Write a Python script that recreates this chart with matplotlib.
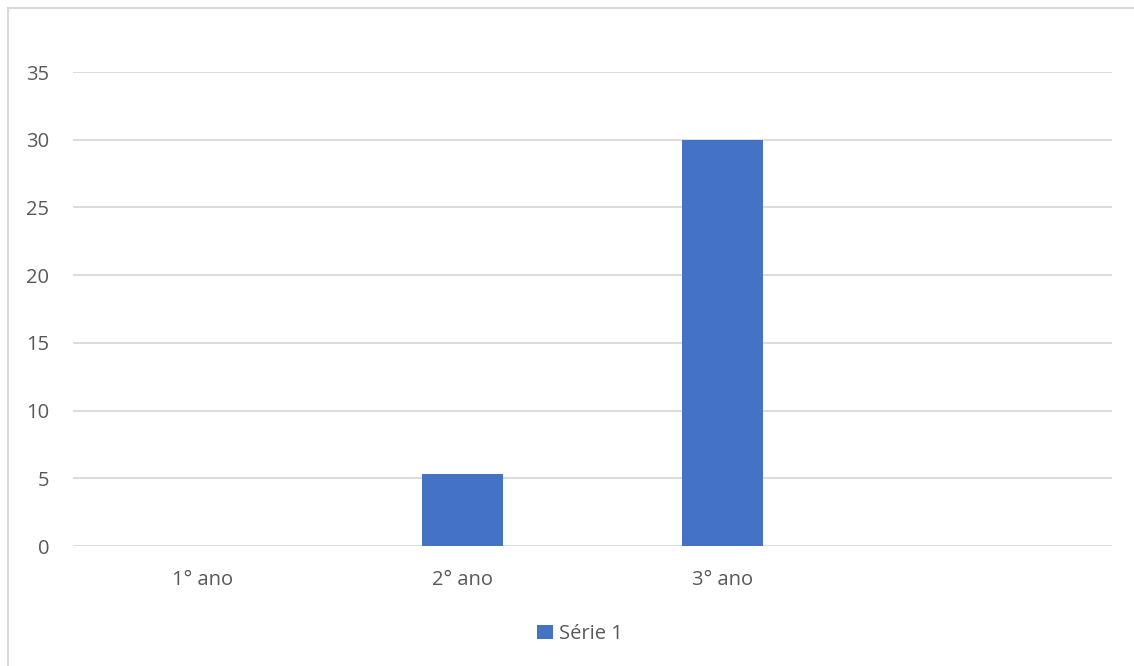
import matplotlib.pyplot as plt

categories = ["1° ano", "2° ano", "3° ano", ""]
values = [0, 5.3, 30, 0]
series_name = "Série 1"
yticks = [0, 5, 10, 15, 20, 25, 30, 35]

bar_color = "#4472C4"
text_color = "#595959"
grid_color = "#D9D9D9"

plt.rcParams['font.family'] = ['Open Sans', 'DejaVu Sans']

fig = plt.figure(figsize=(11.34, 6.66), dpi=100)
ax = fig.add_axes([73 / 1134, 1 - 546 / 666, (1112 - 73) / 1134, (546 - 72) / 666])

x = list(range(len(categories)))
ax.bar(x, values, width=0.31, color=bar_color, label=series_name, zorder=3)

ax.set_xlim(-0.5, len(categories) - 0.5)
ax.set_ylim(0, 35)
ax.set_yticks(yticks)
ax.set_xticks(x)
ax.set_xticklabels(categories)
ax.tick_params(axis='both', length=0, labelsize=14.5, labelcolor=text_color)
ax.tick_params(axis='y', pad=17)
ax.tick_params(axis='x', pad=17)
ax.grid(axis='y', color=grid_color, linewidth=1.3, zorder=0)
for s in ax.spines.values():
    s.set_visible(False)

leg = fig.legend(loc='center', bbox_to_anchor=(580 / 1134, 1 - 634 / 666), frameon=False,
                 fontsize=14.5, handlelength=0.75, handleheight=0.75, handletextpad=0.3)
for t in leg.get_texts():
    t.set_color(text_color)

# outer chart frame (only top/left visible in the crop)
fig.add_artist(plt.Line2D([8 / 1134, 8 / 1134], [0, 1 - 8 / 666], transform=fig.transFigure,
                          color="#D9D9D9", linewidth=1.5))
fig.add_artist(plt.Line2D([8 / 1134, 1], [1 - 8 / 666, 1 - 8 / 666], transform=fig.transFigure,
                          color="#D9D9D9", linewidth=1.5))

fig.savefig("out.png", dpi=100)
